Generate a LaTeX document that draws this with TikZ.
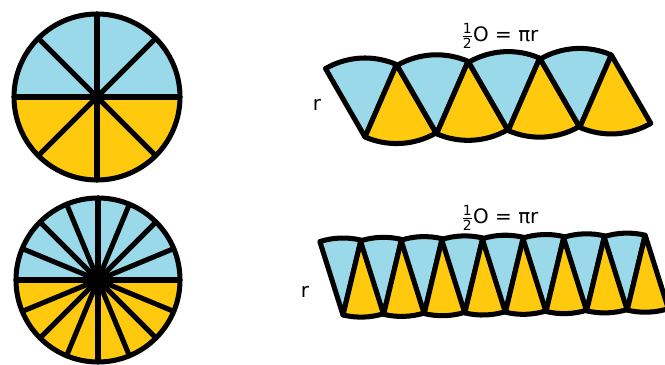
\documentclass[tikz,border=0pt]{standalone}
\usepackage{amsmath}
\usepackage{fontspec}
\setmainfont{DejaVu Sans}
\usetikzlibrary{calc}
\definecolor{paintblue}{RGB}{153,217,234}
\definecolor{paintgold}{RGB}{255,201,14}
\tikzset{
	thick line/.style={line width=4.3pt, line join=round, line cap=round},
	blue piece/.style={thick line, fill=paintblue},
	gold piece/.style={thick line, fill=paintgold},
	label text/.style={font=\fontsize{17}{20}\selectfont, inner sep=0pt}
}

\begin{document}
\begin{tikzpicture}[x=0.03cm, y=0.03cm]
\useasboundingbox (0,0) rectangle (665,365);

% circle cut in 8
\coordinate (c8) at (97,268);
\foreach \k in {0,...,7} {
	\ifnum\k<4 \def\col{paintblue}\else\def\col{paintgold}\fi
	\fill[\col] (c8) -- ++(45*\k:83) arc (45*\k:45*\k+45:83) -- cycle;
}
\foreach \k in {0,...,3} {
	\draw[thick line] (c8) ++(45*\k:83) -- ++(45*\k+180:166);
}
\draw[thick line] (c8) circle (83);

% circle cut in 16
\coordinate (c16) at (98,85);
\foreach \k in {0,...,15} {
	\ifnum\k<8 \def\col{paintblue}\else\def\col{paintgold}\fi
	\fill[\col] (c16) -- ++(22.5*\k:82) arc (22.5*\k:22.5*\k+22.5:82) -- cycle;
}
\foreach \k in {0,...,7} {
	\draw[thick line] (c16) ++(22.5*\k:82) -- ++(22.5*\k+180:164);
}
\draw[thick line] (c16) circle (82);

% 8 pieces laid in a row
\foreach \i in {0,...,3} {
	\coordinate (b\i) at (365+71.6*\i, 228+3.2*\i);
	\filldraw[blue piece] (b\i) -- ++(120:79) arc (120:66.5:79) -- cycle;
	\coordinate (t\i) at ($(b\i)+(66.5:79)$);
	\filldraw[gold piece] (t\i) -- ++(246.5:79) arc (246.5:300:79) -- cycle;
}

% 16 pieces laid in a row
\foreach \i in {0,...,7} {
	\coordinate (bb\i) at (343+40.6*\i, 50+0.7*\i);
	\filldraw[blue piece] (bb\i) -- ++(107.5:77) arc (107.5:76.5:77) -- cycle;
	\coordinate (tt\i) at ($(bb\i)+(76.5:77)$);
	\filldraw[gold piece] (tt\i) -- ++(256.5:77) arc (256.5:287.5:77) -- cycle;
}

\node[label text] (top half) at (500,329) {$\frac{\text{1}}{\text{2}}$O = πr};
\node[label text] (top r) at (317,260) {r};
\node[label text] (bottom half) at (500,147) {$\frac{\text{1}}{\text{2}}$O = πr};
\node[label text] (bottom r) at (305,73) {r};

\end{tikzpicture}
\end{document}
